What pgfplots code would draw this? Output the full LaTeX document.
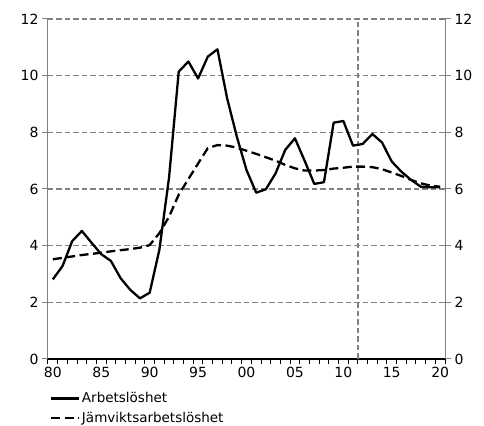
\documentclass[border=0pt]{standalone}
\usepackage{fontspec}
\setmainfont{DejaVu Sans}
\usepackage{pgfplots}
\pgfplotsset{compat=1.18}
\definecolor{gridgray}{RGB}{128,128,128}

\pgfplotstableread{
year a b
1980 2.81 3.52
1981 3.28 3.57
1982 4.16 3.62
1983 4.52 3.67
1984 4.10 3.71
1985 3.70 3.75
1986 3.46 3.80
1987 2.85 3.84
1988 2.44 3.88
1989 2.14 3.93
1990 2.34 4.02
1991 3.85 4.44
1992 6.40 5.02
1993 10.14 5.80
1994 10.50 6.35
1995 9.90 6.90
1996 10.67 7.44
1997 10.93 7.55
1998 9.20 7.53
1999 7.85 7.46
2000 6.67 7.35
2001 5.87 7.24
2002 5.99 7.12
2003 6.55 7.00
2004 7.38 6.85
2005 7.79 6.73
2006 7.00 6.65
2007 6.18 6.65
2008 6.24 6.67
2009 8.34 6.72
2010 8.40 6.75
2011 7.53 6.79
2012 7.59 6.79
2013 7.94 6.77
2014 7.64 6.70
2015 6.97 6.58
2016 6.61 6.46
2017 6.32 6.32
2018 6.08 6.20
2019 6.06 6.12
2020 6.06 6.08
}\data

\begin{document}
\begin{tikzpicture}
\pgfplotsset{
  common/.style={
    scale only axis,
    width=397bp, height=340bp,
    xmin=1979.5, xmax=2020.5,
    ymin=0, ymax=12,
    ytick={0,2,...,12},
    tick align=outside,
    major tick length=6bp,
    minor tick length=5.5bp,
    /pgf/number format/assume math mode=true,
    every tick label/.append style={font=\fontsize{14bp}{16bp}\selectfont, text=black},
    y tick style={gridgray, line width=1bp},
  },
  mylegimg/.style={legend image code/.code={\draw[##1] (0bp,0bp) -- (28bp,0bp);}},
}
\begin{axis}[
  common,
  axis x line*=bottom,
  axis y line*=left,
  x axis line style={black, line width=1.2bp, -},
  y axis line style={gridgray, line width=1bp, -},
  xtick={1980,1985,...,2020},
  xticklabels={80,85,90,95,00,05,10,15,20},
  major x tick style={draw=none},
  minor xtick={1979.5,1980.5,...,2020.5},
  minor x tick style={black, line width=1bp},
  xticklabel style={yshift=1bp},
  ymajorgrids,
  grid style={gridgray, line width=1.3bp, dash pattern=on 5.5bp off 3bp},
  extra x ticks={2011.5},
  extra x tick labels={},
  extra x tick style={grid=major, major tick length=0pt},
  legend style={at={(axis description cs:0,0)}, anchor=north west,
    xshift=2bp, yshift=-32bp, draw=none, fill=none,
    font=\fontsize{13.5bp}{16bp}\selectfont, row sep=5bp,
    inner sep=0pt, nodes={inner sep=1.5bp}},
  legend cell align=left,
]
\addplot[black, line width=2.3bp, line join=round, mylegimg] table[x=year, y=a] {\data};
\addlegendentry{Arbetslöshet}
\addplot[black, line width=2.3bp, dash pattern=on 9bp off 4.5bp, mylegimg] table[x=year, y=b] {\data};
\addlegendentry{Jämviktsarbetslöshet}
\end{axis}
\begin{axis}[
  common,
  axis x line=none,
  axis y line*=right,
  y axis line style={gridgray, line width=1bp, -},
]
\addplot[draw=none] coordinates {(1980,0)};
\end{axis}
\useasboundingbox ([shift={(-48bp,-66bp)}]current axis.south west) rectangle ++(484bp,425bp);
\end{tikzpicture}
\end{document}
